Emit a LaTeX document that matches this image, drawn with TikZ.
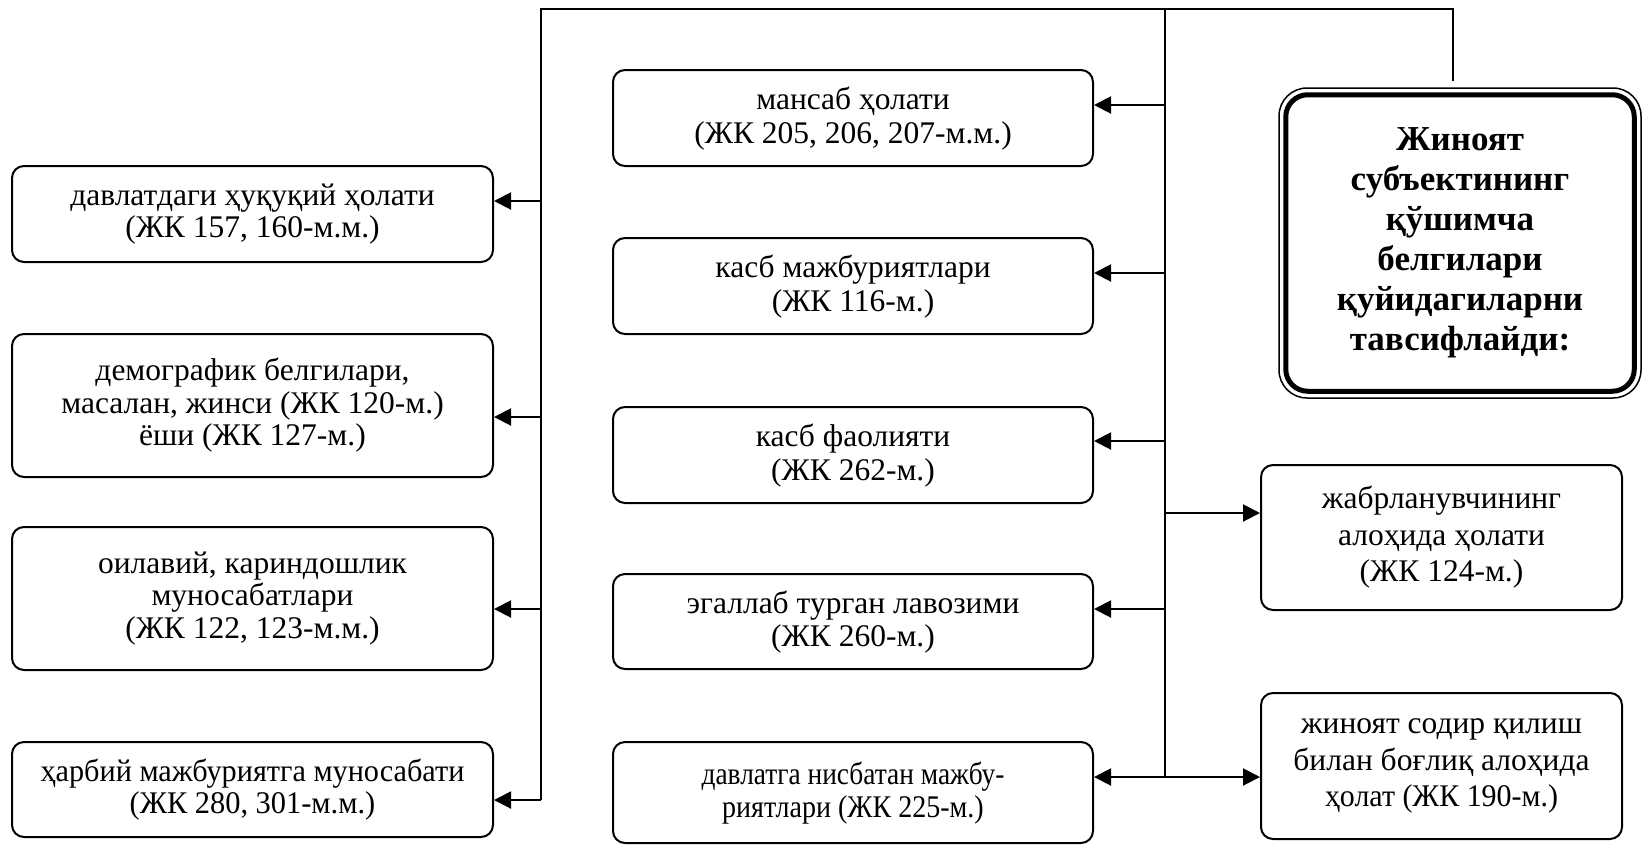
\documentclass[tikz,border=0pt]{standalone}
\usepackage{fontspec}
\usepackage{graphicx}
\setmainfont{Liberation Serif}
\usetikzlibrary{arrows.meta}
\newcommand{\sqz}[2]{\scalebox{#1}[1]{#2}}
\begin{document}
\begin{tikzpicture}[x=1pt,y=-1pt,
  box/.style={draw, line width=2pt, rounded corners=12pt, inner sep=0pt, align=center},
  lbox/.style={box, minimum width=481pt, font=\fontsize{31.5}{32.5}\selectfont},
  mbox/.style={box, minimum width=480pt, font=\fontsize{31.5}{33.5}\selectfont, text depth=6pt},
  rbox/.style={box, minimum width=361pt, font=\fontsize{31.5}{36.5}\selectfont},
  mainbox/.style={draw, line width=1.5pt, rounded corners=28pt, inner sep=0pt, align=center,
     minimum width=362pt, minimum height=310pt, font=\fontsize{35}{40}\selectfont\bfseries},
  conn/.style={line width=2pt},
  arr/.style={conn, -{Triangle[length=17pt,width=17pt]}}
]
\useasboundingbox[fill=white] (0,0) rectangle (1643,847);

% left column
\node[lbox, minimum height=96pt]  (L1) at (252.5,214)   {давлатдаги ҳуқуқий ҳолати\\(ЖК 157, 160-м.м.)};
\node[lbox, minimum height=143pt] (L2) at (252.5,405.5) {демографик белгилари,\\масалан, жинси (ЖК 120-м.)\\ёши (ЖК 127-м.)};
\node[lbox, minimum height=143pt] (L3) at (252.5,598.5) {оилавий, кариндошлик\\муносабатлари\\(ЖК 122, 123-м.м.)};
\node[lbox, minimum height=95pt]  (L4) at (252.5,789.5) {\sqz{0.96}{ҳарбий мажбуриятга муносабати}\\\sqz{0.965}{(ЖК 280, 301-м.м.)}};

% middle column
\node[mbox, minimum height=96pt]  (M1) at (853,118)   {мансаб ҳолати\\(ЖК 205, 206, 207-м.м.)};
\node[mbox, minimum height=96pt]  (M2) at (853,286)   {касб мажбуриятлари\\(ЖК 116-м.)};
\node[mbox, minimum height=96pt]  (M3) at (853,455)   {касб фаолияти\\(ЖК 262-м.)};
\node[mbox, minimum height=95pt]  (M4) at (853,621.5) {эгаллаб турган лавозими\\(ЖК 260-м.)};
\node[mbox, minimum height=101pt] (M5) at (853,792.5) {\sqz{0.87}{давлатга нисбатан мажбу-}\\\sqz{0.89}{риятлари (ЖК 225-м.)}};

% right column
\node[rbox, minimum height=145pt] (R1) at (1441.5,537.5) {жабрланувчининг\\алоҳида ҳолати\\(ЖК 124-м.)};
\node[rbox, minimum height=146pt] (R2) at (1441.5,766)   {жиноят содир қилиш\\билан боғлиқ алоҳида\\\sqz{0.95}{ҳолат (ЖК 190-м.)}};

% main box
\node[mainbox] (main) at (1460,243) {Жиноят\\субъектининг\\қўшимча\\белгилари\\қуйидагиларни\\тавсифлайди:};
\draw[line width=5pt, rounded corners=22pt] ([shift={(7.5,7.5)}]main.north west) rectangle ([shift={(-7.5,-7.5)}]main.south east);

% bus coordinates
\coordinate (tl) at (541,9);
\coordinate (tm) at (1165,9);
\coordinate (tr) at (1453,9);
\coordinate (trb) at (1453,81);
\coordinate (lb1) at (541,201);
\coordinate (lb2) at (541,417);
\coordinate (lb3) at (541,609);
\coordinate (lb4) at (541,800);
\coordinate (mb1) at (1165,105);
\coordinate (mb2) at (1165,273);
\coordinate (mb3) at (1165,441);
\coordinate (mb4) at (1165,609);
\coordinate (mb5) at (1165,777);
\coordinate (rb1) at (1165,513);

% buses
\draw[conn] (trb) -- (tr) -- (tl) -- (lb4);
\draw[conn] (tm) -- (mb5);

% arrows to left column
\draw[arr] (lb1) -- (lb1 -| L1.east);
\draw[arr] (lb2) -- (lb2 -| L2.east);
\draw[arr] (lb3) -- (lb3 -| L3.east);
\draw[arr] (lb4) -- (lb4 -| L4.east);

% arrows to middle column
\draw[arr] (mb1) -- (mb1 -| M1.east);
\draw[arr] (mb2) -- (mb2 -| M2.east);
\draw[arr] (mb3) -- (mb3 -| M3.east);
\draw[arr] (mb4) -- (mb4 -| M4.east);
\draw[arr] (mb5) -- (mb5 -| M5.east);

% arrows to right column
\draw[arr] (rb1) -- (rb1 -| R1.west);
\draw[arr] (mb5) -- (mb5 -| R2.west);
\end{tikzpicture}
\end{document}
